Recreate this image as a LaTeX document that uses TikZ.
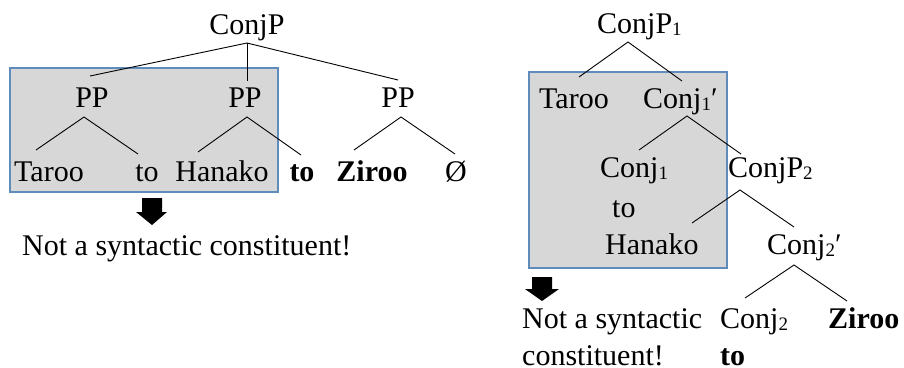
\documentclass[tikz,border=0pt]{standalone}
\usepackage{fontspec}
\setmainfont{Liberation Serif}
\definecolor{boxfill}{RGB}{216,215,216}
\definecolor{boxline}{RGB}{96,140,188}
\newcommand\sbx[1]{{\fontsize{19}{19}\selectfont\raisebox{-0.12em}{#1}}}
\tikzset{
  lbl/.style={inner sep=0pt, anchor=base, font=\fontsize{30}{32}\selectfont},
  lblw/.style={lbl, anchor=base west},
  branch/.style={draw=black, line width=0.9pt},
  graybox/.style={fill=boxfill, draw=boxline, line width=1.4pt},
  downarrow/.style={fill=black, draw=none}
}
\begin{document}
\begin{tikzpicture}[x=1pt,y=1pt]
\useasboundingbox (0,0) rectangle (904,-367);
% boxes
\path[graybox] (10,-68) rectangle (278,-192);
\path[graybox] (529,-72) rectangle (727,-268);

% ---------- left tree ----------
\node[lbl] (conjp) at (247,-34) {ConjP};
\node[lbl] (pp1) at (92,-107) {PP};
\node[lbl] (pp2) at (245,-107) {PP};
\node[lbl] (pp3) at (398,-107) {PP};
\node[lbl] (taroo) at (49,-181) {Taroo};
\node[lbl] (to1) at (147,-181) {to};
\node[lbl] (hanako) at (222,-181) {Hanako};
\node[lbl] (to2) at (302,-181) {\textbf{to}};
\node[lbl] (ziroo) at (372,-181) {\textbf{Ziroo}};
\node[lbl] (empty) at (456,-181) {Ø};
\node[lblw] (notl) at (22,-255) {Not a syntactic constituent!};

\coordinate (cA) at (247,-43);
\coordinate (p1t) at (90,-76);
\coordinate (p2t) at (247,-81);
\coordinate (p3t) at (398,-80);
\coordinate (p1b) at (84,-117);
\coordinate (p2b) at (247,-117);
\coordinate (p3b) at (401,-117);
\coordinate (tarooT) at (36,-150);
\coordinate (to1T) at (138,-154);
\coordinate (hanakoT) at (198,-152);
\coordinate (to2T) at (301,-155);
\coordinate (zirooT) at (354,-150);
\coordinate (emptyT) at (455,-154);

\draw[branch] (cA) -- (p1t);
\draw[branch] (cA) -- (p2t);
\draw[branch] (cA) -- (p3t);
\draw[branch] (tarooT) -- (p1b) -- (to1T);
\draw[branch] (hanakoT) -- (p2b) -- (to2T);
\draw[branch] (zirooT) -- (p3b) -- (emptyT);

\fill[downarrow] (142,-198) -- (162,-198) -- (162,-212) -- (167,-212) -- (152,-225)
  -- (136,-212) -- (142,-212) -- cycle;

% ---------- right tree ----------
\node[lblw] (cp1) at (597,-33) {ConjP\sbx{1}};
\node[lblw] (rtaroo) at (539,-108) {Taroo};
\node[lblw] (c1bar) at (643,-108) {Conj\sbx{1}′};
\node[lblw] (c1) at (600,-177) {Conj\sbx{1}};
\node[lblw] (cp2) at (728,-177) {ConjP\sbx{2}};
\node[lblw] (rto) at (612,-217) {to};
\node[lblw] (rhanako) at (605,-254) {Hanako};
\node[lblw] (c2bar) at (767,-254) {Conj\sbx{2}′};
\node[lblw] (notr1) at (522,-328) {Not a syntactic};
\node[lblw] (notr2) at (522,-365) {constituent!};
\node[lblw] (c2) at (720,-328) {Conj\sbx{2}};
\node[lblw] (rto2) at (720,-365) {\textbf{to}};
\node[lblw] (rziroo) at (828,-328) {\textbf{Ziroo}};

\coordinate (q1) at (628,-42);
\coordinate (q1l) at (579,-77);
\coordinate (q1r) at (682,-81);
\coordinate (q2) at (687,-116);
\coordinate (q2l) at (639,-150);
\coordinate (q2r) at (741,-154);
\coordinate (q3) at (740,-190);
\coordinate (q3l) at (692,-223);
\coordinate (q3r) at (794,-227);
\coordinate (q4) at (794,-265);
\coordinate (q4l) at (745,-298);
\coordinate (q4r) at (847,-301);

\draw[branch] (q1l) -- (q1) -- (q1r);
\draw[branch] (q2l) -- (q2) -- (q2r);
\draw[branch] (q3l) -- (q3) -- (q3r);
\draw[branch] (q4l) -- (q4) -- (q4r);

\fill[downarrow] (532,-277) -- (552,-277) -- (552,-289) -- (559,-289) -- (542,-301)
  -- (525,-289) -- (532,-289) -- cycle;
\end{tikzpicture}
\end{document}
